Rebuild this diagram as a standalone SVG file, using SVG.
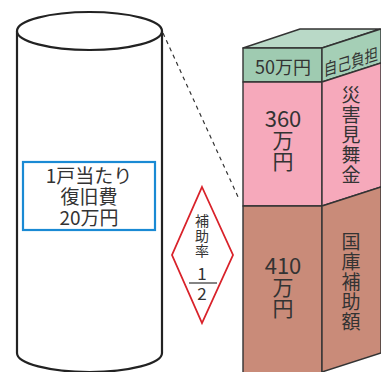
<svg xmlns="http://www.w3.org/2000/svg" width="381" height="372" viewBox="0 0 381 372">
<style>
.t{font-family:"Noto Sans CJK JP","Noto Sans",sans-serif;fill:#333;text-anchor:middle}
.edge{stroke:#333;stroke-width:1.4;stroke-linejoin:round}
</style>
<rect width="381" height="372" fill="#fff"/>
<g id="cylinder">
<path d="M17,31 V353 A72.5,19 0 0 0 162,353 V31" fill="#fff" stroke="#222" stroke-width="2.2"/>
<ellipse cx="89.5" cy="31" rx="72.5" ry="19" fill="#fff" stroke="#222" stroke-width="2.2"/>
</g>
<g id="cost-box">
<rect x="23" y="162" width="132" height="68" fill="#fff" stroke="#1a8ad4" stroke-width="2.2"/>
<text class="t" font-size="19" x="89" y="183">1戸当たり</text>
<text class="t" font-size="19" x="89" y="204">復旧費</text>
<text class="t" font-size="19" x="89" y="225">20万円</text>
</g>
<g id="connectors">
<line x1="163" y1="33" x2="239" y2="199" stroke="#333" stroke-width="1.2" stroke-dasharray="4 4"/>
</g>
<g id="rate">
<polygon points="202,187 233,255 202,323 172,255" fill="#fff" stroke="#d9222a" stroke-width="1.8"/>
<text class="t" font-size="14"><tspan x="202" y="226">補</tspan><tspan x="202" y="241">助</tspan><tspan x="202" y="256">率</tspan></text>
<text class="t" font-size="17" x="202" y="280">1</text>
<line x1="189" y1="283" x2="217" y2="283" stroke="#333" stroke-width="1.2"/>
<text class="t" font-size="17" x="202" y="300">2</text>
</g>
<g id="bar">
<polygon class="edge" points="243,48 300,29 380,29 322,48" fill="#b9d9c7"/>
<rect class="edge" x="243" y="48" width="79" height="34" fill="#9fcbb1"/>
<polygon class="edge" points="322,48 381,29 381,63 322,82" fill="#a5cfb6"/>
<rect class="edge" x="243" y="82" width="79" height="124" fill="#f6a9bb"/>
<polygon class="edge" points="322,82 381,63 381,187 322,206" fill="#f6a9bb"/>
<rect class="edge" x="243" y="206" width="79" height="170" fill="#c98b79"/>
<polygon class="edge" points="322,206 381,187 381,353 322,372" fill="#c98b79"/>
</g>
<g id="self-pay">
<text class="t" font-size="18" x="283" y="74">50万円</text>
<text class="t" font-size="17" transform="translate(351,68) skewY(-17) scale(0.8,1)" x="0" y="0">自己負担</text>
</g>
<g id="mimaikin">
<text class="t" font-size="22" x="283" y="127">360</text>
<text class="t" font-size="21"><tspan x="283" y="148">万</tspan><tspan x="283" y="169">円</tspan></text>
<text class="t" font-size="19"><tspan x="351" y="102">災</tspan><tspan x="351" y="122">害</tspan><tspan x="351" y="142">見</tspan><tspan x="351" y="162">舞</tspan><tspan x="351" y="182">金</tspan></text>
</g>
<g id="kokko">
<text class="t" font-size="22" x="283" y="274">410</text>
<text class="t" font-size="21"><tspan x="283" y="295">万</tspan><tspan x="283" y="316">円</tspan></text>
<text class="t" font-size="19"><tspan x="351" y="249">国</tspan><tspan x="351" y="269">庫</tspan><tspan x="351" y="289">補</tspan><tspan x="351" y="309">助</tspan><tspan x="351" y="329">額</tspan></text>
</g>
</svg>
